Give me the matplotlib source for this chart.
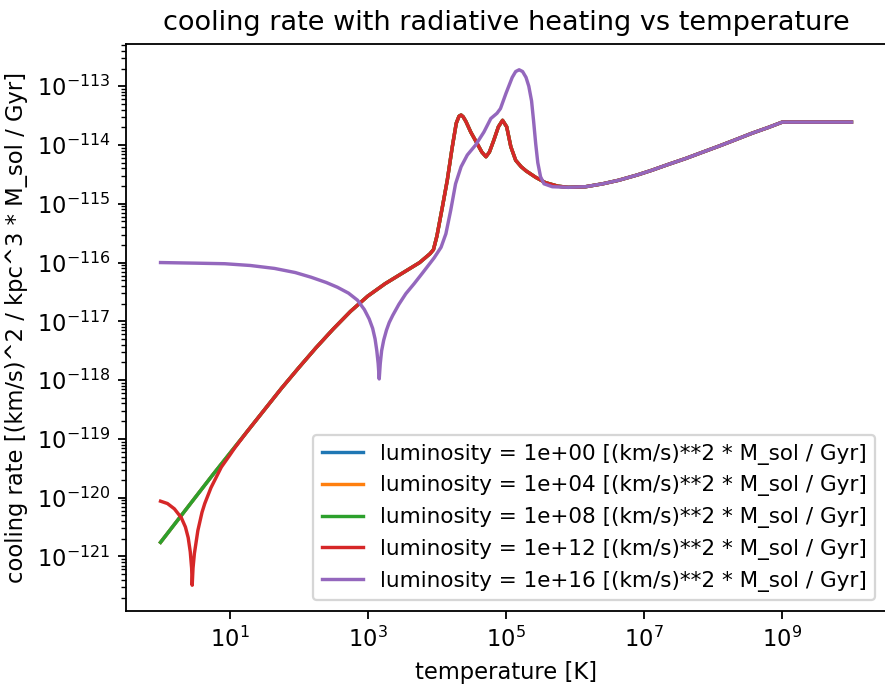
import numpy as np
import matplotlib
matplotlib.use("Agg")
import matplotlib.pyplot as plt

# luminosities of the radiation source
luminosities = [1e0, 1e4, 1e8, 1e12, 1e16]

# net cooling rate for weak sources (log10 T, log10 rate)
log_T_base = [0.0, 0.25, 0.5, 0.75, 1.0, 1.25, 1.5, 1.75, 2.0, 2.25, 2.5, 2.75,
              3.0, 3.25, 3.5, 3.75, 3.9, 3.95, 4.0, 4.08, 4.15, 4.22, 4.28,
              4.32, 4.35, 4.38, 4.42, 4.49, 4.58, 4.65, 4.71, 4.76, 4.82, 4.89,
              4.95, 5.01, 5.07, 5.14, 5.22, 5.29, 5.43, 5.57, 5.75, 5.9, 6.15,
              6.4, 6.63, 6.9, 7.11, 7.35, 7.6, 7.85, 8.08, 8.3, 8.56, 8.8, 9.0,
              9.5, 10.0]
log_rate_base = [-120.76, -120.38, -120.0, -119.62, -119.25, -118.88, -118.51,
                 -118.14, -117.79, -117.45, -117.13, -116.83, -116.57, -116.36,
                 -116.18, -116.0, -115.85, -115.78, -115.55, -115.05, -114.6,
                 -114.05, -113.63, -113.51, -113.49, -113.52, -113.6, -113.78,
                 -113.97, -114.12, -114.2, -114.12, -113.93, -113.69, -113.58,
                 -113.69, -114.03, -114.26, -114.37, -114.44, -114.55, -114.64,
                 -114.7, -114.72, -114.71, -114.66, -114.6, -114.51, -114.43,
                 -114.33, -114.23, -114.12, -114.02, -113.92, -113.8, -113.7,
                 -113.61, -113.61, -113.61]

# L = 1e12: heating shows up below ~10 K
log_T_l12 = [0.0, 0.1, 0.2, 0.3, 0.36, 0.4, 0.43, 0.45, 0.458, 0.47, 0.49,
             0.54, 0.6, 0.64, 0.73, 0.88, 1.0, 1.07]
log_rate_l12 = [-120.06, -120.1, -120.19, -120.34, -120.5, -120.68, -120.92,
                -121.2, -121.49, -121.2, -120.95, -120.56, -120.25, -120.1,
                -119.83, -119.48, -119.28, -119.16]

# L = 1e16: heating dominates up to ~1e3 K
log_T_l16 = [0.0, 0.5, 0.93, 1.3, 1.65, 1.95, 2.18, 2.4, 2.56, 2.72, 2.85,
             2.95, 3.02, 3.07, 3.105, 3.13, 3.15, 3.165, 3.18, 3.2, 3.23,
             3.27, 3.31, 3.36, 3.45, 3.55, 3.67, 3.79, 3.96, 4.06, 4.13, 4.2,
             4.27, 4.35, 4.44, 4.56, 4.68, 4.78, 4.87, 4.92, 5.0, 5.09, 5.14,
             5.19, 5.24, 5.29, 5.33, 5.37, 5.4, 5.43, 5.46, 5.5, 5.55, 5.67]
log_rate_l16 = [-116.0, -116.01, -116.02, -116.05, -116.1, -116.17, -116.25,
                -116.34, -116.42, -116.52, -116.64, -116.8, -116.96, -117.12,
                -117.3, -117.5, -117.72, -117.98, -117.72, -117.5, -117.32,
                -117.15, -117.02, -116.9, -116.71, -116.53, -116.36, -116.18,
                -115.92, -115.74, -115.51, -115.11, -114.66, -114.37, -114.17,
                -114.0, -113.78, -113.55, -113.46, -113.38, -113.12, -112.85,
                -112.75, -112.72, -112.75, -112.85, -113.0, -113.25, -113.6,
                -113.98, -114.3, -114.54, -114.66, -114.71]

base_T = np.array(log_T_base)
base_rate = np.array(log_rate_base)


def joined(log_T_low, log_rate_low, start):
    keep = base_T >= start
    lt = np.concatenate([log_T_low, base_T[keep]])
    lr = np.concatenate([log_rate_low, base_rate[keep]])
    return lt, lr


curves = [
    (base_T, base_rate),
    (base_T, base_rate),
    (base_T, base_rate),
    joined(log_T_l12, log_rate_l12, 1.25),
    joined(log_T_l16, log_rate_l16, 5.9),
]

dpi = 163
fig, ax = plt.subplots(figsize=(885 / dpi, 686 / dpi), dpi=dpi)
fig.subplots_adjust(left=126 / 885, right=886 / 885, bottom=1 - 611 / 686,
                    top=1 - 44 / 686)

for lum, (lt, lr) in zip(luminosities, curves):
    ax.plot(10 ** lt, 10 ** lr,
            label=f"luminosity = {lum:.0e} [(km/s)**2 * M_sol / Gyr]")

ax.set_xscale("log")
ax.set_yscale("log")
ax.set_xlabel("temperature [K]")
ax.set_ylabel("cooling rate [(km/s)^2 / kpc^3 * M_sol / Gyr]")
ax.set_title("cooling rate with radiative heating vs temperature")
ax.legend(loc="lower right", fontsize=9.5, handlelength=1.9)

fig.savefig("out.png", dpi=dpi)
